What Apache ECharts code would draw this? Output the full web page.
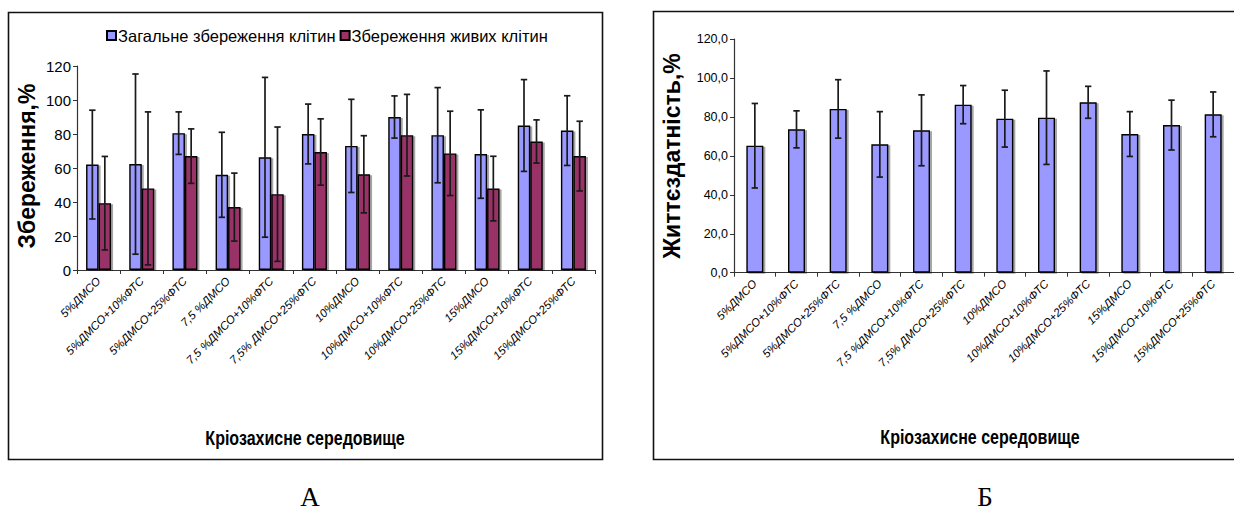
<!DOCTYPE html>
<html>
<head>
<meta charset="utf-8">
<script src="https://cdn.jsdelivr.net/npm/echarts@6/dist/echarts.min.js"></script>
<style>
html,body{margin:0;padding:0;background:#fff;}
#chart{width:1234px;height:520px;}
</style>
</head>
<body>
<div id="chart"></div>
<script>
// ---- data ----
const categories = [
  '5%ДМСО', '5%ДМСО+10%ФТС', '5%ДМСО+25%ФТС',
  '7,5 %ДМСО', '7,5 %ДМСО+10%ФТС', '7,5% ДМСО+25%ФТС',
  '10%ДМСО', '10%ДМСО+10%ФТС', '10%ДМСО+25%ФТС',
  '15%ДМСО', '15%ДМСО+10%ФТС', '15%ДМСО+25%ФТС'
];
const seriesNames = ['Загальне збереження клітин', 'Збереження живих клітин'];
const totalPreservation = [62, 62.3, 80.5, 56, 66.3, 80, 73, 90, 79.3, 68.2, 85, 82];
const totalSD           = [32, 53, 12.5, 25, 47, 17.6, 27.4, 12.4, 28, 26, 27, 20.5];
const livePreservation  = [39.3, 48, 67, 37, 44.6, 69.4, 56.3, 79.3, 68.6, 47.9, 75.6, 67];
const liveSD            = [27.5, 45, 16, 20, 39.5, 19.5, 22.7, 24, 24.8, 19, 12.7, 20.5];
const viability   = [65.2, 73.6, 84.1, 65.9, 73.1, 86.3, 79.1, 79.6, 87.5, 71.2, 75.8, 81.3];
const viabilitySD = [21.7, 9.5, 15, 16.8, 18.2, 9.8, 14.6, 24, 8.2, 11.5, 12.8, 11.5];
const leftTicks  = [0, 20, 40, 60, 80, 100, 120];
const rightTicks = [0, 20, 40, 60, 80, 100, 120];
const leftYTitle  = 'Збереження,%';
const rightYTitle = 'Життєздатність,%';
const xTitle = 'Кріозахисне середовище';
const panelLetters = ['А', 'Б'];

// ---- styles ----
const BLUE = '#9999FF', MAROON = '#993366';
const NARROW = "'Liberation Sans Narrow', 'Arial Narrow', 'Liberation Sans', sans-serif";
const ARIAL = "'Liberation Sans', Arial, sans-serif";
const LEFT_BAR_W = 12.5, RIGHT_BAR_W = 17;

function errorSeries(xi, means, sds, offset) {
  return {
    type: 'custom',
    xAxisIndex: xi, yAxisIndex: xi,
    z: 5,
    silent: true,
    data: means.map((m, i) => [i, m - sds[i], m + sds[i]]),
    renderItem: function (params, api) {
      const lo = api.coord([api.value(0), api.value(1)]);
      const hi = api.coord([api.value(0), api.value(2)]);
      const x = lo[0] + offset;
      const cap = 3.2;
      const st = { stroke: '#1a1a1a', lineWidth: 1.7 };
      return {
        type: 'group',
        children: [
          { type: 'line', shape: { x1: x, y1: lo[1], x2: x, y2: hi[1] }, style: st },
          { type: 'line', shape: { x1: x - cap, y1: lo[1], x2: x + cap, y2: lo[1] }, style: st },
          { type: 'line', shape: { x1: x - cap, y1: hi[1], x2: x + cap, y2: hi[1] }, style: st }
        ]
      };
    }
  };
}

function xAxisCfg(gi) {
  return {
    type: 'category', gridIndex: gi, data: categories,
    axisLine: { lineStyle: { color: '#333', width: 1.2 } },
    axisTick: { show: true, length: 4, lineStyle: { color: '#333' } },
    axisLabel: { interval: 0, rotate: 45, margin: 9, color: '#000', fontSize: 11.5,
      fontStyle: 'italic', fontFamily: ARIAL }
  };
}
function yAxisCfg(gi, ticks, fmt) {
  return {
    type: 'value', gridIndex: gi, min: ticks[0], max: ticks[ticks.length - 1],
    interval: ticks[1] - ticks[0],
    splitLine: { show: false },
    axisLine: { show: true, lineStyle: { color: '#333', width: 1.2 } },
    axisTick: { show: true, length: 4, lineStyle: { color: '#333' } },
    axisLabel: { margin: 6, color: '#000', fontSize: gi === 0 ? 15 : 12.5, fontFamily: NARROW, formatter: fmt }
  };
}

const barStyle = (c) => ({ color: c, borderColor: '#000', borderWidth: 1.4,
  shadowColor: 'rgba(0,0,0,0.35)', shadowOffsetX: 2, shadowOffsetY: 1, shadowBlur: 0 });

const titleText = (x, y, text, rot, size, sx) => ({
  type: 'text', x: x, y: y, rotation: rot, scaleX: sx, scaleY: 1,
  style: { text: text, fontSize: size, fontWeight: 'bold', fontFamily: ARIAL, fill: '#000',
    textAlign: 'center', textVerticalAlign: 'middle' }
});

const option = {
  animation: false,
  backgroundColor: '#fff',
  grid: [
    { left: 77, top: 66, width: 518, height: 204 },
    { left: 734, top: 39, width: 502, height: 233.7 }
  ],
  legend: {
    left: 101, top: 22, itemWidth: 9, itemHeight: 9, itemGap: 4,
    icon: 'rect',
    textStyle: { fontSize: 16.5, fontFamily: NARROW, color: '#000', padding: [0, 0, 0, -3] },
    data: seriesNames
  },
  xAxis: [xAxisCfg(0), xAxisCfg(1)],
  yAxis: [
    yAxisCfg(0, leftTicks, (v) => String(v)),
    yAxisCfg(1, rightTicks, (v) => v.toFixed(1).replace('.', ','))
  ],
  series: [
    { name: seriesNames[0], type: 'bar', xAxisIndex: 0, yAxisIndex: 0, data: totalPreservation,
      barWidth: LEFT_BAR_W, barGap: '0%', itemStyle: barStyle(BLUE) },
    { name: seriesNames[1], type: 'bar', xAxisIndex: 0, yAxisIndex: 0, data: livePreservation,
      barWidth: LEFT_BAR_W, barGap: '0%', itemStyle: barStyle(MAROON) },
    errorSeries(0, totalPreservation, totalSD, -LEFT_BAR_W / 2),
    errorSeries(0, livePreservation, liveSD, LEFT_BAR_W / 2),
    { name: 'viability', type: 'bar', xAxisIndex: 1, yAxisIndex: 1, data: viability,
      barWidth: RIGHT_BAR_W, itemStyle: barStyle(BLUE) },
    errorSeries(1, viability, viabilitySD, 0)
  ],
  graphic: [
    { type: 'rect', shape: { x: 8.5, y: 12.5, width: 594, height: 447 },
      style: { fill: 'none', stroke: '#111', lineWidth: 1.6 }, z: 0, silent: true },
    { type: 'rect', shape: { x: 653.5, y: 11.5, width: 620, height: 448 },
      style: { fill: 'none', stroke: '#111', lineWidth: 1.6 }, z: 0, silent: true },
    titleText(27, 166, leftYTitle, Math.PI / 2, 23, 1),
    titleText(672, 156, rightYTitle, Math.PI / 2, 23, 1),
    titleText(305, 438, xTitle, 0, 20, 0.8),
    titleText(980, 437, xTitle, 0, 20, 0.8),
    { type: 'text', x: 310, y: 497,
      style: { text: panelLetters[0], fontSize: 27, fontFamily: "'Liberation Serif', 'Times New Roman', serif",
        fill: '#000', textAlign: 'center', textVerticalAlign: 'middle' } },
    { type: 'text', x: 985, y: 497,
      style: { text: panelLetters[1], fontSize: 27, fontFamily: "'Liberation Serif', 'Times New Roman', serif",
        fill: '#000', textAlign: 'center', textVerticalAlign: 'middle' } }
  ]
};

const chart = echarts.init(document.getElementById('chart'), null, { renderer: 'svg', width: 1234, height: 520 });
chart.setOption(option);
</script>
</body>
</html>
